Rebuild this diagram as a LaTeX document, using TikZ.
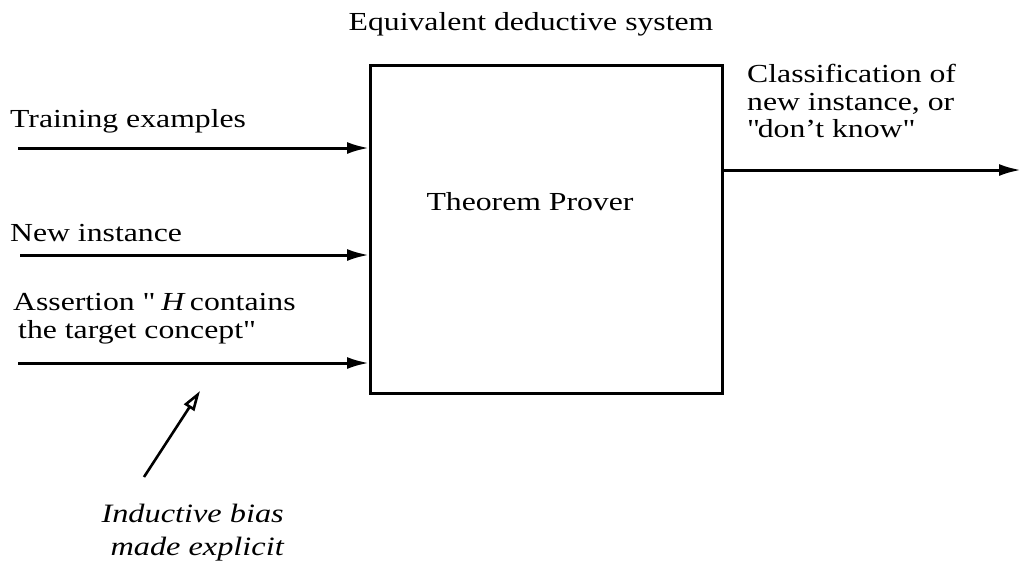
\documentclass[tikz,border=0pt]{standalone}
\usepackage{fontspec}
\setmainfont{Liberation Serif}[FakeStretch=1.22]
\usetikzlibrary{arrows.meta}
\begin{document}
\begin{tikzpicture}[x=1pt,y=-1pt,
  lbl/.style={anchor=base west,inner sep=0pt,font=\fontsize{26}{28}\selectfont},
  ln/.style={line width=3pt},
  inarrow/.style={ln,-{Latex[length=22pt,width=12pt]}},
  biasarrow/.style={line width=2.6pt,-{Triangle[open,length=20pt,width=12pt,line width=2.6pt]}}]
\useasboundingbox (0,0) rectangle (1023,579);
% box
\node[ln,draw,minimum width=352pt,minimum height=328pt,inner sep=0pt,anchor=north west] (tp) at (369,64) {};
\node[lbl,anchor=base] (tptext) at (530,210) {Theorem Prover};
\node[lbl,anchor=base] (title) at (531,30) {Equivalent deductive system};
% inputs
\node[lbl] (train) at (10,127) {Training examples};
\node[lbl] (newi) at (10,241) {New instance};
\node[lbl] (as1) at (13,310) {Assertion \textquotedbl{} \textit{H}\,contains};
\node[lbl] (as2) at (18,338) {the target concept\textquotedbl};
\coordinate (trainS) at (18,148);
\coordinate (newS) at (20,255);
\coordinate (asS) at (18,363);
\draw[inarrow] (trainS) -- (trainS -| tp.west);
\draw[inarrow] (newS) -- (newS -| tp.west);
\draw[inarrow] (asS) -- (asS -| tp.west);
% output
\node[lbl] (cl1) at (747,82) {Classification of};
\node[lbl] (cl2) at (747,110) {new instance, or};
\node[lbl] (cl3) at (747,137) {\textquotedbl don't know\textquotedbl};
\coordinate (outS) at (tp.east |- 0,170);
\coordinate (outE) at (1021,170);
\draw[inarrow] (outS) -- (outE);
% inductive bias
\node[inner sep=0pt,anchor=base east,align=right,font=\fontsize{26.5}{33}\selectfont\itshape] (bias) at (284,555) {Inductive bias\\made explicit};
\coordinate (bS) at (144,477);
\coordinate (bE) at (200,391);
\draw[biasarrow] (bS) -- (bE);
\end{tikzpicture}
\end{document}
